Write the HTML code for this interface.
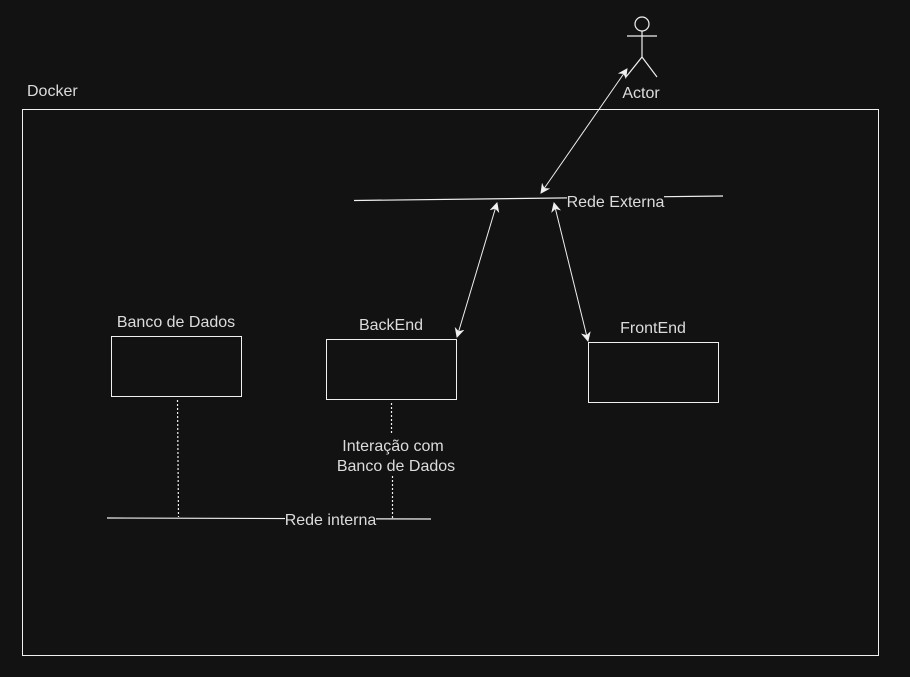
<!DOCTYPE html>
<html><head><meta charset="utf-8"><style>
html,body{margin:0;padding:0;background:#121212;}
svg{display:block;}
text{font-family:"Liberation Sans",Arial,sans-serif;font-size:16px;fill:#dcdcdc;}
</style></head><body>
<svg width="910" height="677" viewBox="0 0 910 677" xmlns="http://www.w3.org/2000/svg">
<defs>
<marker id="a" viewBox="0 0 10 10" refX="9" refY="5" markerWidth="10" markerHeight="10" orient="auto-start-reverse" markerUnits="userSpaceOnUse">
<path d="M0,0 L10,5 L0,10 L3,5 Z" fill="#f0f0f0"/>
</marker>
</defs>
<rect x="0" y="0" width="910" height="677" fill="#121212"/>
<text x="27" y="96">Docker</text>
<rect x="22.5" y="109.5" width="856" height="546" fill="none" stroke="#f0f0f0" stroke-width="1"/>
<g stroke="#f0f0f0" fill="none" stroke-width="1.2">
<circle cx="642" cy="24" r="7"/>
<line x1="642" y1="31" x2="642" y2="57"/>
<line x1="627" y1="36" x2="657" y2="36"/>
<line x1="642" y1="57" x2="626" y2="77"/>
<line x1="642" y1="57" x2="657" y2="77"/>
</g>
<text x="641" y="98" text-anchor="middle">Actor</text>
<line x1="354" y1="200.5" x2="723" y2="196" stroke="#f0f0f0" stroke-width="1.2"/>
<rect x="567" y="190" width="97" height="18" fill="#121212"/>
<text x="615.5" y="207" text-anchor="middle">Rede Externa</text>
<g stroke="#f0f0f0" stroke-width="1" marker-start="url(#a)" marker-end="url(#a)">
<line x1="627" y1="69" x2="541" y2="193"/>
<line x1="497" y1="203" x2="457" y2="337"/>
<line x1="554" y1="203" x2="588" y2="341"/>
</g>
<g fill="none" stroke="#f0f0f0" stroke-width="1">
<rect x="111.5" y="336.5" width="130" height="60"/>
<rect x="326.5" y="339.5" width="130" height="60"/>
<rect x="588.5" y="342.5" width="130" height="60"/>
</g>
<text x="176" y="327" text-anchor="middle">Banco de Dados</text>
<text x="391" y="330" text-anchor="middle">BackEnd</text>
<text x="653" y="333" text-anchor="middle">FrontEnd</text>
<line x1="107" y1="518" x2="431" y2="519" stroke="#f0f0f0" stroke-width="1.2"/>
<g stroke="#f0f0f0" stroke-width="1.2" stroke-dasharray="2,2">
<line x1="177.5" y1="400" x2="178.5" y2="517"/>
<line x1="391.5" y1="403" x2="391.5" y2="434"/>
<line x1="392.5" y1="476" x2="392.5" y2="518"/>
</g>
<rect x="285" y="511" width="91" height="17" fill="#121212"/>
<text x="330.5" y="525" text-anchor="middle">Rede interna</text>
<text x="393" y="451" text-anchor="middle">Interação com</text>
<text x="396" y="471" text-anchor="middle">Banco de Dados</text>
</svg>
</body></html>
